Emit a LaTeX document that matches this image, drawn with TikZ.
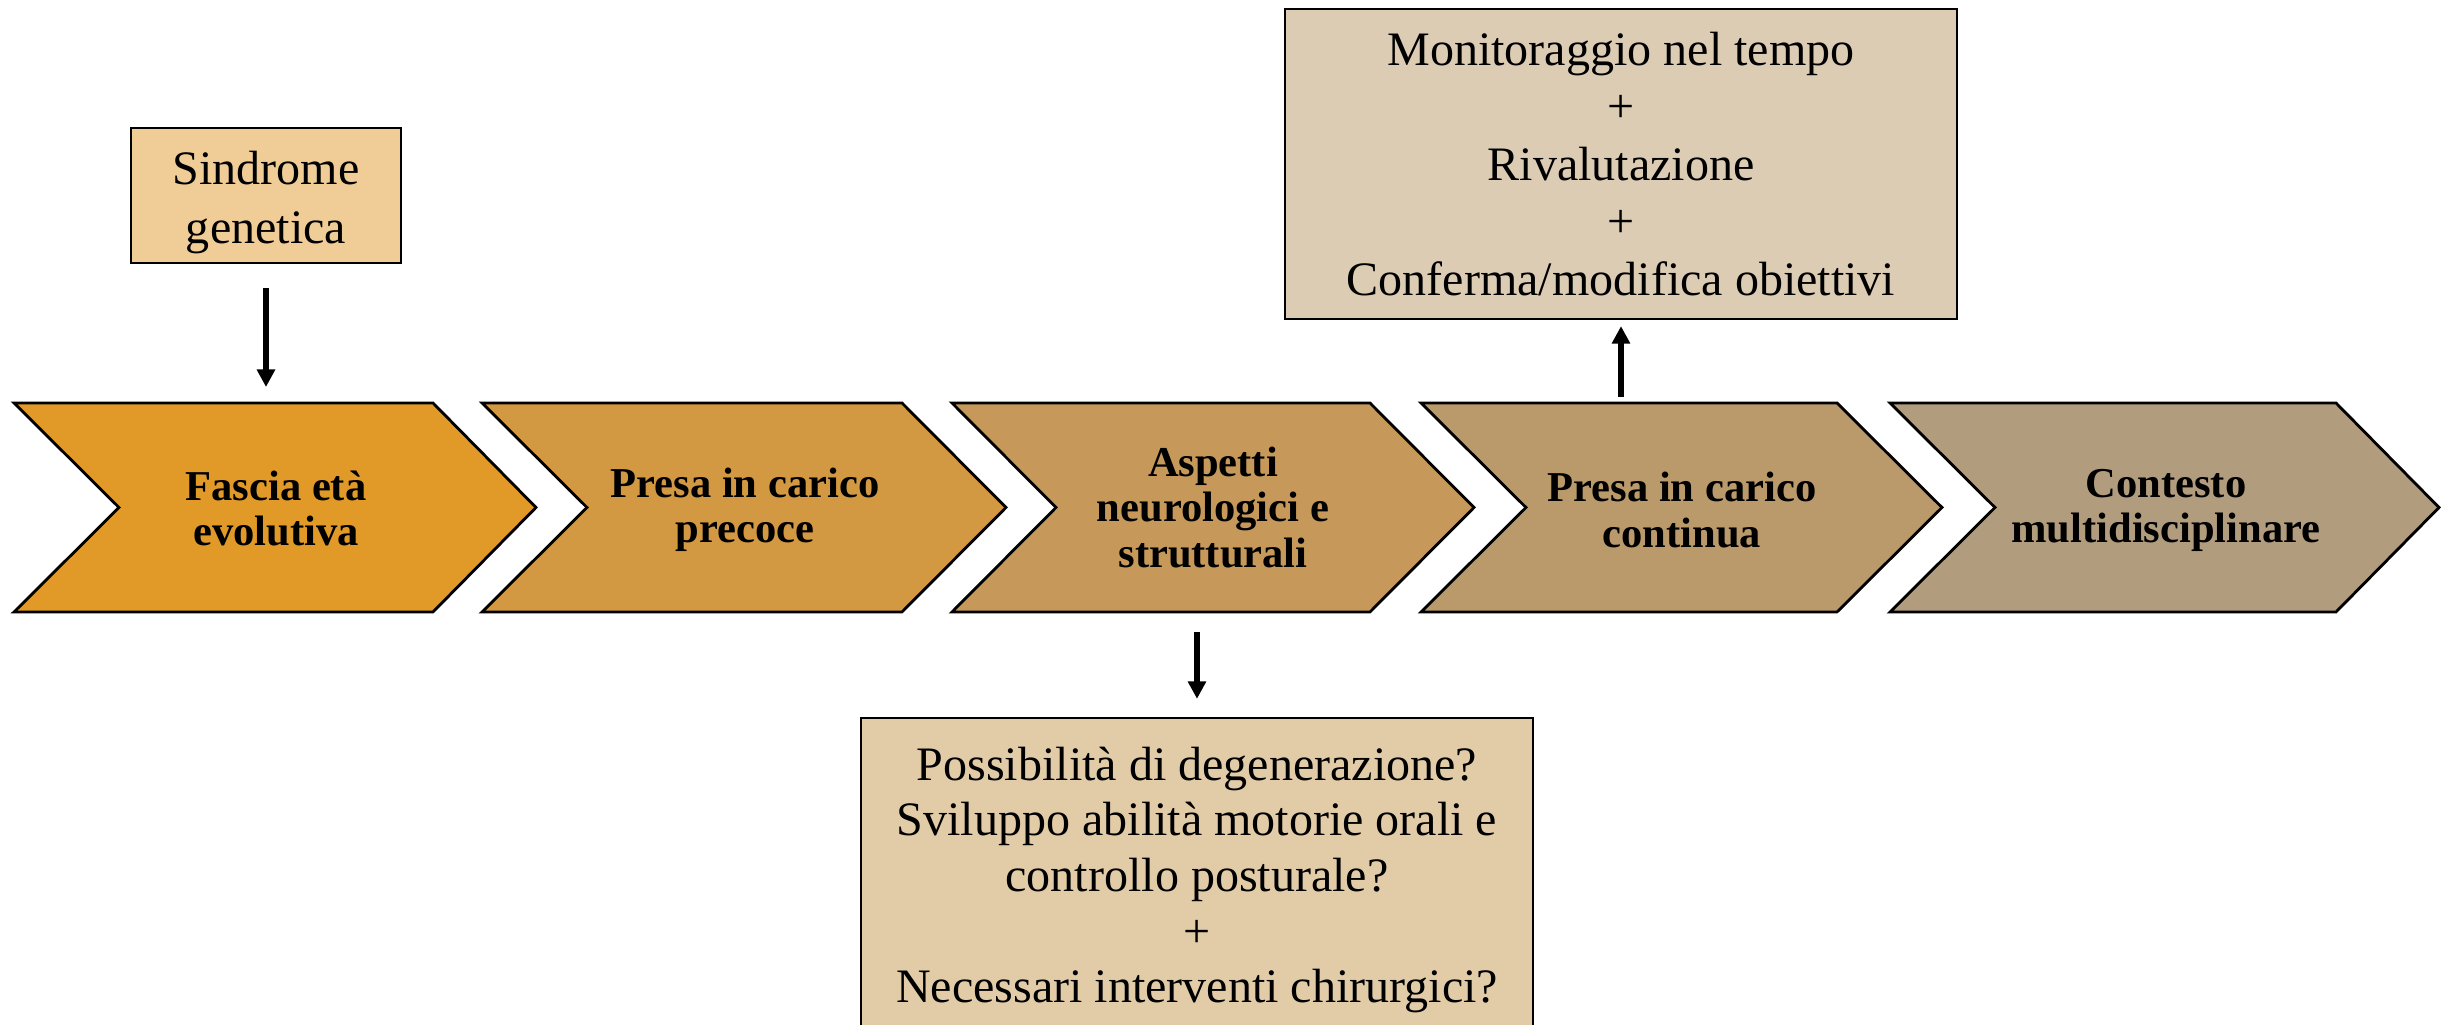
\documentclass[tikz,border=0pt]{standalone}
\usepackage{fontspec}
\setmainfont{Liberation Serif}
\usetikzlibrary{arrows.meta}
\definecolor{cA}{HTML}{E19928}
\definecolor{cB}{HTML}{D39842}
\definecolor{cC}{HTML}{C6995A}
\definecolor{cD}{HTML}{BA996B}
\definecolor{cE}{HTML}{B29C7E}
\definecolor{cSy}{HTML}{F0CD96}
\definecolor{cBot}{HTML}{E2CCA8}
\definecolor{cTop}{HTML}{DCCCB4}
\begin{document}
\begin{tikzpicture}[x=0.01cm,y=-0.01cm,
  chevron/.style={draw=black, line width=0.8pt, line join=miter},
  chevtext/.style={font=\fontsize{12.1pt}{12.8pt}\selectfont\bfseries, align=center, inner sep=0pt},
  infobox/.style={draw=black, line width=0.6pt, align=center, inner sep=0pt, font=\fontsize{13.66pt}{16.35pt}\selectfont},
  arr/.style={line width=1.6pt, -{Triangle[width=5pt,length=5pt]}}]
\useasboundingbox (0,0) rectangle (2450,1025);
% chevrons
\path[chevron, fill=cA] (14,403) -- (433,403) -- (536,507.5) -- (433,612) -- (14,612) -- (119,507.5) -- cycle;
\path[chevron, fill=cB] (482,403) -- (902,403) -- (1006,507.5) -- (902,612) -- (482,612) -- (587,507.5) -- cycle;
\path[chevron, fill=cC] (952,403) -- (1370,403) -- (1474,507.5) -- (1370,612) -- (952,612) -- (1056,507.5) -- cycle;
\path[chevron, fill=cD] (1421,403) -- (1837,403) -- (1942,507.5) -- (1837,612) -- (1421,612) -- (1526,507.5) -- cycle;
\path[chevron, fill=cE] (1890,403) -- (2336,403) -- (2439,507.5) -- (2336,612) -- (1890,612) -- (1995,507.5) -- cycle;
\node[chevtext] (c1) at (276,508.5) {Fascia età\\evolutiva};
\node[chevtext] (c2) at (745,510) {Presa in carico\\precoce};
\node[chevtext] (c3) at (1213,507.5) {Aspetti\\neurologici e\\strutturali};
\node[chevtext] (c4) at (1682,510) {Presa in carico\\continua};
\node[chevtext] (c5) at (2166,510) {Contesto\\multidisciplinare};
\coordinate (c1n) at (266,403);
\coordinate (c3s) at (1197,612);
\coordinate (c4n) at (1621,403);
% boxes
\node[infobox, fill=cSy, minimum width=2.7cm, minimum height=1.35cm] (sind) at (266,195.5) {};
\node[font=\fontsize{13.66pt}{16.8pt}\selectfont, align=center, inner sep=0pt] (sindt) at (266,202.5) {Sindrome\\genetica};
\node[infobox, fill=cTop, minimum width=6.72cm, minimum height=3.1cm] (mon) at (1621,164) {Monitoraggio nel tempo\\+\\Rivalutazione\\+\\Conferma/modifica obiettivi};
\node[infobox, fill=cBot, minimum width=6.72cm, minimum height=3.12cm] (ques) at (1197,874) {};
\node[font=\fontsize{13.66pt}{15.8pt}\selectfont, align=center, inner sep=0pt] (quest) at (1197,880) {Possibilità di degenerazione?\\Sviluppo abilità motorie orali e\\controllo posturale?\\+\\Necessari interventi chirurgici?};
% arrows
\draw[arr, shorten <=0.24cm, shorten >=0.16cm] (sind.south) -- (c1n);
\draw[arr, shorten <=0.2cm, shorten >=0.18cm] (c3s) -- (ques.north);
\draw[arr, shorten <=0.06cm, shorten >=0.06cm] (c4n) -- (mon.south);
\end{tikzpicture}
\end{document}
